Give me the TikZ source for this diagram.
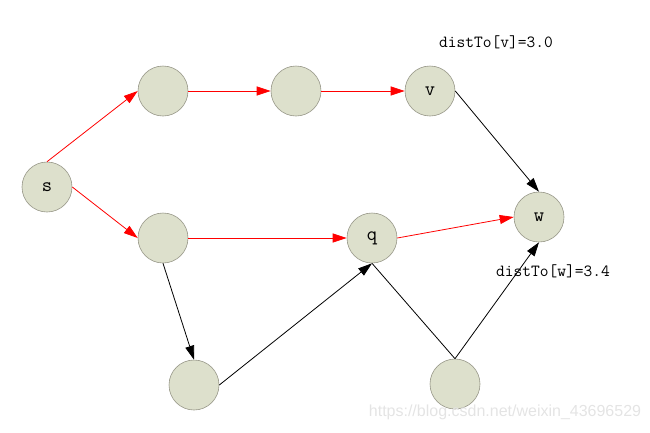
\documentclass[tikz,border=0pt]{standalone}
\usepackage{fontspec}
\newfontfamily\wmfont{Liberation Sans}
\usetikzlibrary{arrows.meta}
\definecolor{nodefill}{RGB}{221,224,204}
\definecolor{nodeline}{RGB}{150,150,135}
\definecolor{wmgray}{RGB}{228,228,228}
\begin{document}
\begin{tikzpicture}[x=1pt,y=-1pt,
  vtx/.style={circle,draw=nodeline,fill=nodefill,line width=0.6pt,minimum size=50pt,inner sep=0pt,font=\ttfamily\fontsize{20}{20}\selectfont},
  redge/.style={draw=red,line width=0.8pt,-{Triangle[length=14pt,width=9pt]}},
  bedge/.style={draw=black,line width=0.8pt,-{Triangle[length=14pt,width=9pt]}},
  plain/.style={draw=black,line width=0.8pt},
  lbl/.style={font=\ttfamily\fontsize{17}{17}\selectfont,inner sep=0pt}]
\useasboundingbox (0,0) rectangle (650,432);
\node[vtx] (s) at (47,187) {s};
\node[vtx] (a1) at (163,91) {};
\node[vtx] (a2) at (296,91) {};
\node[vtx] (v) at (430,91) {v};
\node[vtx] (w) at (539,217) {w};
\node[vtx] (b1) at (163,238) {};
\node[vtx] (q) at (372,238) {q};
\node[vtx] (c1) at (194,385) {};
\node[vtx] (c2) at (455,384) {};
\node[lbl] (lv) at (496,42) {distTo[v]=3.0};
\node[lbl] (lw) at (553,271) {distTo[w]=3.4};
\draw[redge] (s.north) -- (a1.west);
\draw[redge] (s.east) -- (b1.west);
\draw[redge] (a1.east) -- (a2.west);
\draw[redge] (a2.east) -- (v.west);
\draw[redge] (b1.east) -- (q.west);
\draw[redge] (q.east) -- (w.west);
\draw[bedge] (v.east) -- (w.north);
\draw[bedge] (b1.south) -- (c1.north);
\draw[bedge] (c1.east) -- (q.south);
\draw[plain] (q.south) -- (c2.north);
\draw[bedge] (c2.north) -- (w.south);
\node[text=wmgray,font=\wmfont\fontsize{16}{16}\selectfont,inner sep=0pt] (wm) at (505,412) {https://blog.csdn.net/weixin\_43696529};
\end{tikzpicture}
\end{document}
